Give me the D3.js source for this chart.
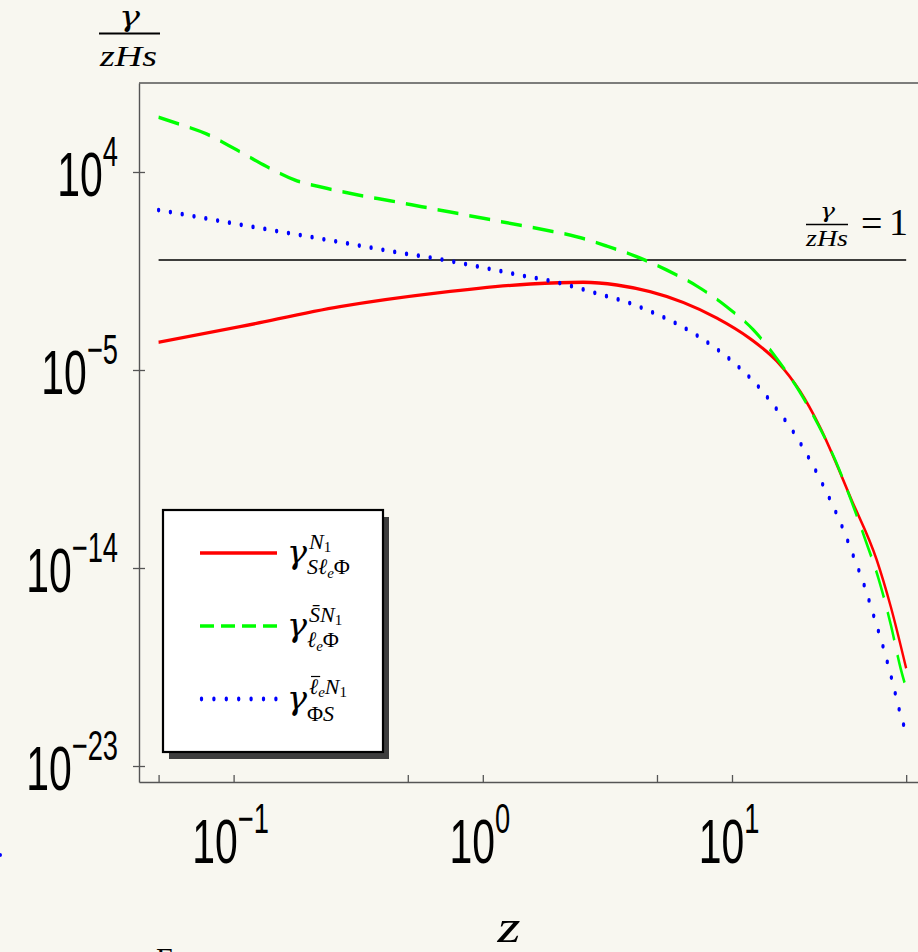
<!DOCTYPE html>
<html><head><meta charset="utf-8">
<script src="https://cdn.jsdelivr.net/npm/d3@7"></script>
<style>
html,body{margin:0;padding:0;background:#f8f7f0;}
svg{display:block;}
</style></head><body>
<svg id="chart" width="918" height="952"></svg>
<script>
// ---- data (z, gamma/(zHs)) ----
const xTicks = [0.05, 0.1, 0.5, 1, 5, 10, 50];
const xLabelTicks = [0.1, 1, 10];
const xLabelExps = ["\u22121", "0", "1"];
const yTicks = [1e4, 1e-5, 1e-14, 1e-23];
const yLabelExps = ["4", "\u22125", "\u221214", "\u221223"];

const redZ   = [0.05, 0.106, 0.267, 0.673, 1.55, 2.53, 3.45, 4.69, 6.38, 8.68, 11.8, 15.1, 18.8, 22.5, 30.2, 38.1, 43.4, 50];
const redG   = [1.82e-4, 9.29e-4, 7.53e-3, 3.27e-2, 8.11e-2, 9.68e-2, 7.31e-2, 3.62e-2, 1.17e-2, 2.31e-3, 2.70e-4, 2.56e-5, 1.03e-6, 2.65e-8, 1.23e-11, 2.31e-14, 1.69e-16, 2.76e-19];

const greenZ = [0.05, 0.0591, 0.078, 0.103, 0.136, 0.176, 0.236, 0.316, 0.424, 0.569, 0.75, 1.005, 1.52, 1.78, 2.38, 3.14, 4.15, 5.47, 7.22, 9.52, 12.2, 15.1, 18.5, 22.2, 26.3, 30.2, 34.5, 38.7, 43.4, 47.5, 50];
const greenG = [3.06e6, 1.64e6, 5.33e5, 1.0e5, 1.74e4, 4.33e3, 1.82e3, 9.02e2, 4.95e2, 2.65e2, 1.47e2, 78.5, 32.7, 23.1, 11.5, 4.33, 1.41, 0.351, 6.58e-2, 7.53e-3, 6.58e-4, 3.40e-5, 1.23e-6, 3.16e-8, 5.74e-10, 1.03e-11, 1.57e-13, 3.40e-15, 2.56e-17, 2.76e-19, 3.40e-20];

const blueZ  = [0.05, 0.0768, 0.118, 0.184, 0.284, 0.438, 0.673, 1.036, 1.446, 2.01, 2.49, 3.09, 3.84, 4.73, 5.81, 7.11, 8.68, 10.5, 12.6, 14.9, 17.5, 21.6, 24.5, 27.6, 30.7, 34.0, 37.2, 40.6, 43.9, 47.2, 50];
const blueG  = [187, 78.5, 32.7, 13.7, 5.74, 2.38, 1.08, 0.42, 0.193, 9.29e-2, 4.81e-2, 2.38e-2, 1.15e-2, 4.47e-3, 1.52e-3, 4.20e-4, 9.02e-5, 1.57e-5, 2.08e-6, 2.02e-7, 1.74e-8, 2.85e-10, 1.64e-11, 8.13e-13, 3.51e-14, 1.52e-15, 5.74e-17, 2.15e-18, 7.85e-20, 2.76e-21, 3.2e-22];

const unityZ = [0.05, 50];
const unityG = [1, 1];

// ---- layout ----
const W = 918, H = 952, K = 1.4; // K: vertical stretch of the original picture
const plot = {left: 139, right: 925, top: 83, bottom: 782};
const frameColor = "#555";
const mathFont = "'Liberation Serif','DejaVu Serif',serif";
const greekFont = "'DejaVu Serif','Liberation Serif',serif";
const sansFont = "'Liberation Sans',Arial,sans-serif";

const svg = d3.select("#chart");
svg.append("rect").attr("width", W).attr("height", H).attr("fill", "#f8f7f0");

const x = d3.scaleLog().domain([0.04172, 59.5]).range([plot.left, plot.right]);
const y = d3.scaleLog().domain([1.875e-24, 1.109e8]).range([plot.bottom, plot.top]);
const yDraw = y.copy().range([plot.bottom / K, plot.top / K]);

// frame / axes
svg.append("line").attr("x1", plot.left).attr("x2", W + 10).attr("y1", plot.top).attr("y2", plot.top)
  .attr("stroke", frameColor).attr("stroke-width", 1.6);

svg.append("g").attr("transform", `translate(0,${plot.bottom})`)
  .call(d3.axisBottom(x).tickValues(xTicks).tickSize(-7).tickSizeOuter(0).tickFormat(""))
  .call(g => {
    g.select(".domain").attr("stroke", frameColor).attr("stroke-width", 1.6);
    g.selectAll(".tick line").attr("stroke", frameColor).attr("stroke-width", 1.3);
  });

svg.append("g").attr("transform", `translate(${plot.left},0)`)
  .call(d3.axisLeft(y).tickValues(yTicks).tickSize(6).tickSizeOuter(0).tickFormat(""))
  .call(g => {
    g.select(".domain").attr("stroke", frameColor).attr("stroke-width", 1.4);
    g.selectAll(".tick line").attr("x1", 6).attr("stroke", frameColor).attr("stroke-width", 1.3);
  });

// tick labels (condensed like the original)
yTicks.forEach((v, i) => {
  const t = svg.append("text")
    .attr("transform", `translate(118,${y(v) + 24}) scale(0.65,1)`)
    .attr("text-anchor", "end").attr("font-family", sansFont).attr("font-size", 63).attr("fill", "#000");
  t.append("tspan").text("10");
  t.append("tspan").attr("font-size", 42).attr("dy", -30).text(yLabelExps[i]);
});
xLabelTicks.forEach((v, i) => {
  const t = svg.append("text")
    .attr("transform", `translate(${x(v) - 3},863) scale(0.65,1)`)
    .attr("text-anchor", "middle").attr("font-family", sansFont).attr("font-size", 63).attr("fill", "#000");
  t.append("tspan").text("10");
  t.append("tspan").attr("font-size", 42).attr("dy", -30).text(xLabelExps[i]);
});

// curves (drawn in a vertically stretched group)
const cg = svg.append("g").attr("transform", `scale(1,${K})`);
const line = d3.line().x(d => x(d[0])).y(d => yDraw(d[1])).curve(d3.curveMonotoneX);
const zip = (a, b) => a.map((v, i) => [v, b[i]]);

cg.append("path").datum(zip(unityZ, unityG)).attr("d", line)
  .attr("fill", "none").attr("stroke", "#000").attr("stroke-width", 1.2);
cg.append("path").datum(zip(redZ, redG)).attr("d", line)
  .attr("fill", "none").attr("stroke", "#ff0000").attr("stroke-width", 2.4);
cg.append("path").datum(zip(greenZ, greenG)).attr("d", line)
  .attr("fill", "none").attr("stroke", "#00ff00").attr("stroke-width", 2.5)
  .attr("stroke-dasharray", "21,11");
cg.append("path").datum(zip(blueZ, blueG)).attr("d", line)
  .attr("fill", "none").attr("stroke", "#0000ff").attr("stroke-width", 3.4)
  .attr("stroke-linecap", "round").attr("stroke-dasharray", "0,11.9");

// legend
const lg = {x: 163, y: 510, w: 220, h: 242};
svg.append("rect").attr("x", lg.x + 6).attr("y", lg.y + 7).attr("width", lg.w).attr("height", lg.h).attr("fill", "#3d3d3d");
svg.append("rect").attr("x", lg.x).attr("y", lg.y).attr("width", lg.w).attr("height", lg.h)
  .attr("fill", "#fff").attr("stroke", "#000").attr("stroke-width", 2.2);
const legendRows = [553, 626, 699];
const lgg = svg.append("g").attr("transform", `scale(1,${K})`);
const sampleStyles = [
  {c: "#ff0000", w: 2.5, dash: null, cap: "butt"},
  {c: "#00ff00", w: 2.5, dash: "14,7", cap: "butt"},
  {c: "#0000ff", w: 3.4, dash: "0,12.4", cap: "round"}
];
sampleStyles.forEach((s, i) => {
  const p = lgg.append("line").attr("x1", 200 + (s.cap === "round" ? 1.5 : 0)).attr("x2", 277)
    .attr("y1", legendRows[i] / K).attr("y2", legendRows[i] / K)
    .attr("stroke", s.c).attr("stroke-width", s.w).attr("stroke-linecap", s.cap);
  if (s.dash) p.attr("stroke-dasharray", s.dash);
});

function mathText(xp, yp, parts) {
  const t = svg.append("text").attr("x", xp).attr("y", yp).attr("font-family", mathFont).attr("fill", "#000");
  parts.forEach(p => {
    const s = t.append("tspan").text(p.t).attr("font-size", p.s || 22)
      .attr("font-style", p.up ? "normal" : "italic");
    if (p.dy) s.attr("dy", p.dy);
  });
  return t;
}
legendRows.forEach(r => {
  svg.append("text").attr("x", 287).attr("y", r + 10).attr("font-family", greekFont)
    .attr("font-style", "italic").attr("font-size", 31)
    .attr("textLength", 20).attr("lengthAdjust", "spacingAndGlyphs").text("\u03B3");
});
// entry 1: gamma^{N1}_{S l_e Phi}
mathText(309, 549, [{t: "N"}, {t: "1", s: 15, up: true, dy: 3}]);
mathText(307, 574, [{t: "S"}, {t: "\u2113"}, {t: "e", s: 15, dy: 4}, {t: "\u03A6", up: true, dy: -4}]);
// entry 2: gamma^{Sbar N1}_{l_e Phi}
mathText(309, 622, [{t: "S\u0304"}, {t: "N"}, {t: "1", s: 15, up: true, dy: 3}]);
mathText(307, 647, [{t: "\u2113"}, {t: "e", s: 15, dy: 4}, {t: "\u03A6", up: true, dy: -4}]);
// entry 3: gamma^{lbar_e N1}_{Phi S}
const sup3 = mathText(309, 694, [{t: "\u2113"}, {t: "e", s: 15, dy: 3}, {t: "N", dy: -3}, {t: "1", s: 15, up: true, dy: 3}]);
mathText(307, 721, [{t: "\u03A6", up: true}, {t: "S"}]);
// bar over the l in entry 3
{
  const ext = sup3.node().getExtentOfChar(0);
  svg.append("line").attr("x1", ext.x + 2).attr("x2", ext.x + ext.width + 2)
    .attr("y1", 694 - 17.5).attr("y2", 694 - 17.5).attr("stroke", "#000").attr("stroke-width", 1.2);
}

// y-axis title gamma / (zHs)
svg.append("text").attr("x", 119).attr("y", 26)
  .attr("font-family", greekFont).attr("font-style", "italic").attr("font-size", 27)
  .attr("textLength", 21).attr("lengthAdjust", "spacingAndGlyphs").text("\u03B3");
svg.append("line").attr("x1", 99).attr("x2", 160).attr("y1", 33.5).attr("y2", 33.5).attr("stroke", "#000").attr("stroke-width", 2.2);
svg.append("text").attr("x", 100).attr("y", 66)
  .attr("font-family", mathFont).attr("font-style", "italic").attr("font-size", 29)
  .attr("textLength", 57).attr("lengthAdjust", "spacingAndGlyphs").text("zHs");

// label gamma/(zHs) = 1
svg.append("text").attr("x", 820).attr("y", 218)
  .attr("font-family", greekFont).attr("font-style", "italic").attr("font-size", 21)
  .attr("textLength", 15).attr("lengthAdjust", "spacingAndGlyphs").text("\u03B3");
svg.append("line").attr("x1", 806).attr("x2", 848).attr("y1", 224.5).attr("y2", 224.5).attr("stroke", "#000").attr("stroke-width", 1.6);
svg.append("text").attr("x", 806).attr("y", 246)
  .attr("font-family", mathFont).attr("font-style", "italic").attr("font-size", 23)
  .attr("textLength", 42).attr("lengthAdjust", "spacingAndGlyphs").text("zHs");
svg.append("text").attr("x", 861).attr("y", 236).attr("font-family", mathFont).attr("font-size", 38).text("=");
svg.append("text").attr("x", 889).attr("y", 235).attr("font-family", mathFont).attr("font-size", 38).text("1");

// x-axis title
svg.append("text").attr("x", 509).attr("y", 942).attr("text-anchor", "middle")
  .attr("font-family", mathFont).attr("font-style", "italic").attr("font-size", 46)
  .attr("textLength", 23).attr("lengthAdjust", "spacingAndGlyphs").text("z");

// cropped caption fragments at the page edges
svg.append("text").attr("x", 156).attr("y", 968).attr("font-family", mathFont).attr("font-size", 30).text("F");
svg.append("circle").attr("cx", 0).attr("cy", 855).attr("r", 2).attr("fill", "#0000ff");
</script>
</body></html>
